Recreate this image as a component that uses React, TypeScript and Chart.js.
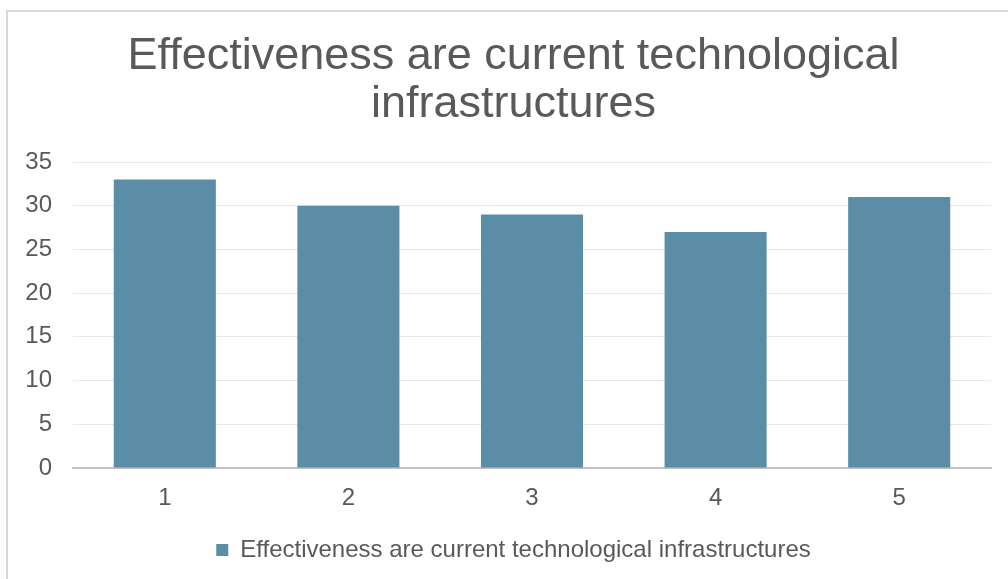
import React, { useEffect, useRef } from "react";
import { Chart, registerables } from "chart.js";

Chart.register(...registerables);

const categories = ["1", "2", "3", "4", "5"];
const seriesName = "Effectiveness are current technological infrastructures";
const seriesValues = [33, 30, 29, 27, 31];
const titleLines = ["Effectiveness are current technological", "infrastructures"];
const yMin = 0;
const yMax = 35;
const yStep = 5;

const FONT = "'Liberation Sans', Arial, sans-serif";
const TEXT = "#595959";

export default function App() {
  const ref = useRef<HTMLCanvasElement | null>(null);

  useEffect(() => {
    if (!ref.current) return;
    const chart = new Chart(ref.current, {
      type: "bar",
      data: {
        labels: categories,
        datasets: [
          {
            label: seriesName,
            data: seriesValues,
            backgroundColor: "#5B8EA6",
            borderWidth: 0,
            barPercentage: 0.556,
            categoryPercentage: 1,
            yAxisID: "y",
          },
        ],
      },
      options: {
        responsive: false,
        animation: false,
        devicePixelRatio: 1,
        layout: { padding: { left: 20, right: 1, top: 0, bottom: 7 } },
        plugins: {
          title: {
            display: true,
            text: titleLines,
            color: TEXT,
            font: { family: FONT, size: 45, weight: "normal", lineHeight: 48 / 45 },
            padding: { top: 32.5, bottom: 33.5 },
          },
          legend: {
            display: true,
            position: "bottom",
            labels: {
              color: TEXT,
              font: { family: FONT, size: 24 },
              boxWidth: 12,
              boxHeight: 12,
              padding: 10,
            },
          },
          tooltip: { enabled: false },
        },
        scales: {
          x: {
            grid: { display: false, drawTicks: false },
            border: { display: true, color: "#c3c3c3", width: 2 },
            ticks: {
              color: TEXT,
              font: { family: FONT, size: 24 },
              padding: 16,
            },
            afterFit: (scale: any) => {
              scale.height = 60;
            },
          },
          y: {
            position: "left",
            min: yMin,
            max: yMax,
            grid: { color: "#e8e8e8", lineWidth: 1, drawTicks: false },
            border: { display: false },
            ticks: {
              stepSize: yStep,
              color: TEXT,
              font: { family: FONT, size: 24 },
              padding: 21,
            },
            afterFit: (scale: any) => {
              scale.width = 53;
            },
          },
          yRight: {
            type: "linear",
            position: "right",
            display: true,
            grid: { display: false, drawTicks: false },
            border: { display: false },
            ticks: { display: false },
            afterFit: (scale: any) => {
              scale.width = 16;
            },
          },
        },
      },
    });
    return () => chart.destroy();
  }, []);

  return (
    <div
      style={{
        position: "fixed",
        left: 0,
        top: 0,
        width: 1008,
        height: 579,
        overflow: "hidden",
        background: "#ffffff",
      }}
    >
      <div
        style={{
          position: "absolute",
          left: 6,
          top: 10,
          width: 1040,
          height: 620,
          border: "2px solid #d9d9d9",
          boxSizing: "border-box",
        }}
      />
      <canvas
        ref={ref}
        width={1008}
        height={579}
        style={{ position: "absolute", left: 0, top: 0, width: 1008, height: 579 }}
      />
    </div>
  );
}
